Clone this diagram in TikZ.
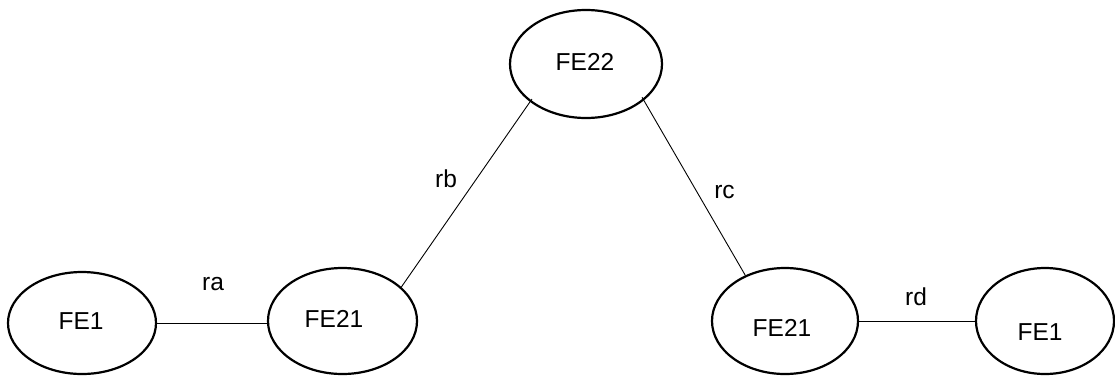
\documentclass[tikz,border=0pt]{standalone}
\usepackage{fontspec}
\setmainfont{Liberation Sans}
\usetikzlibrary{shapes.geometric}
\begin{document}
\begin{tikzpicture}[x=1pt,y=-1pt,
  fe/.style={ellipse,draw,line width=2.2pt,inner sep=0pt},
  lbl/.style={anchor=base,inner sep=0pt,font=\fontsize{24.5}{28}\selectfont},
  conn/.style={line width=0.9pt}]
\useasboundingbox (0,0) rectangle (1115,376);
\node[fe,minimum width=148pt,minimum height=102pt] (fe1a) at (82,323) {};
\node[fe,minimum width=149pt,minimum height=106pt] (fe21a) at (342.5,321) {};
\node[fe,minimum width=152pt,minimum height=108pt] (fe22) at (586,64) {};
\node[fe,minimum width=146pt,minimum height=106pt] (fe21b) at (785,321) {};
\node[fe,minimum width=138pt,minimum height=106pt] (fe1b) at (1045,321) {};
\node[lbl] (t1a) at (81,329) {FE1};
\node[lbl] (t21a) at (334,327) {FE21};
\node[lbl] (t22) at (585,70) {FE22};
\node[lbl] (t21b) at (782,336) {FE21};
\node[lbl] (t1b) at (1040,340) {FE1};
\draw[conn] (fe1a.east) -- (fe1a.east -| fe21a.west) coordinate (raend);
\draw[conn] (fe21a.30.6) -- ([shift={(3,-2)}]fe22.213.9);
\draw[conn] ([shift={(-2,-3)}]fe22.-32.8) -- (fe21b.131);
\draw[conn] (fe21b.east) -- (fe21b.east -| fe1b.west);
\node[lbl] (ra) at (213,290) {ra};
\node[lbl] (rb) at (446,187) {rb};
\node[lbl] (rc) at (724.5,198) {rc};
\node[lbl] (rd) at (916,305) {rd};
\end{tikzpicture}
\end{document}
